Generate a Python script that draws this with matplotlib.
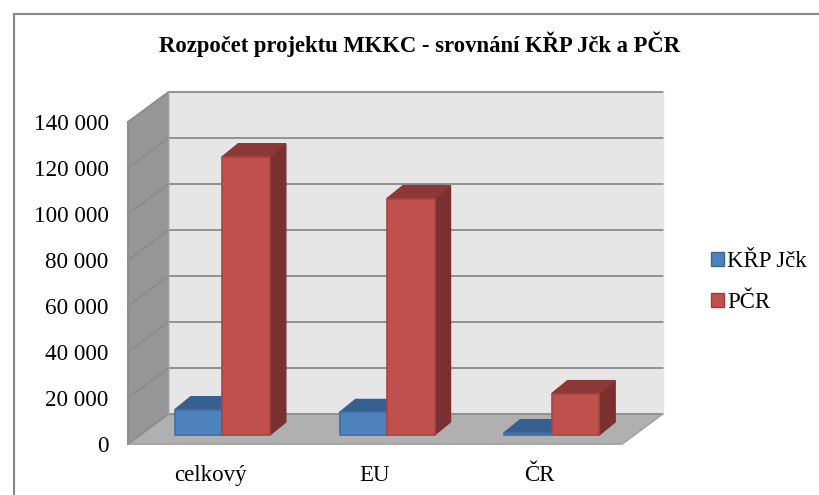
import numpy as np
import matplotlib.pyplot as plt
from matplotlib.patches import Polygon, Rectangle
from matplotlib.lines import Line2D

plt.rcParams["font.family"] = ["Liberation Serif", "DejaVu Serif"]

# thousands of CZK
categories = ["celkový", "EU", "ČR"]
krp_jck = [11000, 9800, 1000]
pcr = [121000, 102800, 18000]
series_names = ["KŘP Jčk", "PČR"]
y_ticks = [0, 20000, 40000, 60000, 80000, 100000, 120000, 140000]
y_labels = ["0", "20 000", "40 000", "60 000", "80 000", "100 000", "120 000", "140 000"]

W, H = 819, 495
X0, X1, Y0, Y1 = 128, 622, 444, 122  # front plane of the plot, pixels

fig = plt.figure(figsize=(W / 100, H / 100), dpi=100)
ax = fig.add_axes([X0 / W, 1 - Y0 / H, (X1 - X0) / W, (Y0 - Y1) / H])
ax.set_xlim(-0.5, 2.5)
ax.set_ylim(0, 140000)
ax.patch.set_visible(False)
for s in ax.spines.values():
    s.set_visible(False)

px = 3 / (X1 - X0)  # data units per pixel
py = 140000 / (Y0 - Y1)
wall_dx, wall_dy = 40.5 * px, 30 * py
bar_off_x, bar_off_y = 12 * px, 9 * py
bar_dx, bar_dy = 16 * px, 13 * py
bar_w = 47.5 * px


def poly(pts, fc, ec=None, z=1, lw=1):
    ax.add_patch(Polygon(pts, closed=True, fc=fc, ec=ec or fc, lw=lw, zorder=z, clip_on=False))


xa, xb = -0.5, 2.5
ytop = 140000
# back wall, side wall, floor
poly([(xa + wall_dx, wall_dy), (xb + wall_dx, wall_dy), (xb + wall_dx, ytop + wall_dy), (xa + wall_dx, ytop + wall_dy)], "#e6e6e6", z=1)
poly([(xa, 0), (xa + wall_dx, wall_dy), (xa + wall_dx, ytop + wall_dy), (xa, ytop)], "#969696", z=1)
poly([(xa, 0), (xb, 0), (xb + wall_dx, wall_dy), (xa + wall_dx, wall_dy)], "#b0b0b0", z=1)
for t in y_ticks:
    ax.plot([xa, xa + wall_dx, xb + wall_dx], [t, t + wall_dy, t + wall_dy], color="#8c8c8c", lw=1.3, zorder=2, clip_on=False)
ax.plot([xa, xb, xb + wall_dx], [0, 0, wall_dy], color="#a6a6a6", lw=1.3, zorder=2, clip_on=False)
ax.plot([xa, xa], [0, ytop], color="#8c8c8c", lw=1.3, zorder=2, clip_on=False)
ax.plot([xa + wall_dx] * 2, [wall_dy, ytop + wall_dy], color="#a0a0a0", lw=1, zorder=2, clip_on=False)


def bar3d(x, v, front, top, side, edge, z):
    x0 = x + bar_off_x
    y0 = bar_off_y
    y1 = y0 + v
    poly([(x0 + bar_w, y0), (x0 + bar_w + bar_dx, y0 + bar_dy), (x0 + bar_w + bar_dx, y1 + bar_dy), (x0 + bar_w, y1)], side, z=z)
    poly([(x0, y1), (x0 + bar_w, y1), (x0 + bar_w + bar_dx, y1 + bar_dy), (x0 + bar_dx, y1 + bar_dy)], top, z=z)
    poly([(x0, y0), (x0 + bar_w, y0), (x0 + bar_w, y1), (x0, y1)], front, ec=edge, z=z + 0.1, lw=1.2)


for i in range(len(categories)):
    bar3d(i - bar_w, krp_jck[i], "#4f81bd", "#376092", "#2f5580", "#3f6ea6", 3)
    bar3d(i, pcr[i], "#c0504d", "#8c3836", "#7a302e", "#a94441", 4)

ax.set_xticks(range(len(categories)))
ax.set_xticklabels(categories, fontsize=16.5)
ax.set_yticks(y_ticks)
ax.set_yticklabels(y_labels, fontsize=16.7)
ax.tick_params(axis="both", length=0)
ax.tick_params(axis="y", pad=14)
ax.tick_params(axis="x", pad=15)

fig.text(420 / W, 1 - 44 / H, "Rozpočet projektu MKKC - srovnání KŘP Jčk a PČR", ha="center", va="center", fontsize=16.3, fontweight="bold")

# legend
handles = [Rectangle((0, 0), 1, 1, fc="#4f81bd", ec="#3a6796"), Rectangle((0, 0), 1, 1, fc="#c0504d", ec="#a03c3a")]
fig.legend(handles, series_names, loc="center left", bbox_to_anchor=(711 / W, 1 - 282 / H), frameon=False,
           fontsize=16.4, handlelength=0.57, handleheight=0.57, handletextpad=0.13, labelspacing=0.85, borderpad=0, borderaxespad=0)

# chart border
fig.add_artist(Line2D([14 / W, 14 / W], [0, 1 - 14 / H], color="#868686", lw=1.5))
fig.add_artist(Line2D([14 / W, 1], [1 - 14 / H, 1 - 14 / H], color="#868686", lw=1.5))

fig.savefig("out.png", dpi=100)
